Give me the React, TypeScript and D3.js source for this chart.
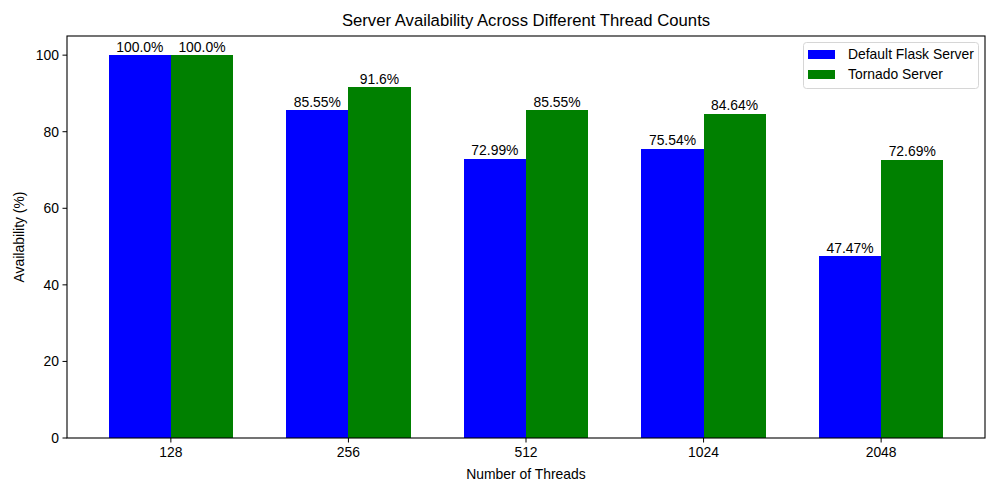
import React from 'react'
import { scaleLinear } from 'd3'

const threads = ['128', '256', '512', '1024', '2048']
const flask = [100.0, 85.55, 72.99, 75.54, 47.47]
const tornado = [100.0, 91.6, 85.55, 84.64, 72.69]
const yTicks = [0, 20, 40, 60, 80, 100]
const seriesNames = ['Default Flask Server', 'Tornado Server']
const seriesColors = ['#0000ff', '#008000']

const fmt = (v: number) => (Number.isInteger(v) ? v.toFixed(1) : String(v)) + '%'

const W = 1000
const H = 494
const left = 67
const right = 985
const top = 36
const bottom = 438
const font = '"Liberation Sans", Arial, sans-serif'

const App = () => {
  // x in "category units", matplotlib-style margins
  const x = scaleLinear().domain([-0.585, threads.length - 1 + 0.585]).range([left, right])
  const y = scaleLinear().domain([0, 105]).range([bottom, top])
  const bw = 0.35
  const series = [flask, tornado]

  return (
    <svg width={W} height={H} style={{ position: 'absolute', left: 0, top: 0, fontFamily: font }}>
      <rect width={W} height={H} fill="white" />
      <text x={(left + right) / 2} y={26} textAnchor="middle" fontSize={16.7}>
        Server Availability Across Different Thread Counts
      </text>

      {series.map((vals, s) =>
        vals.map((v, i) => {
          const x0 = x(i + (s === 0 ? -bw : 0))
          const x1 = x(i + (s === 0 ? 0 : bw))
          return (
            <g key={`${s}-${i}`}>
              <rect x={x0} y={y(v)} width={x1 - x0} height={bottom - y(v)} fill={seriesColors[s]} shapeRendering="crispEdges" />
              <text x={(x0 + x1) / 2} y={y(v) - 3.5} textAnchor="middle" fontSize={13.9}>
                {fmt(v)}
              </text>
            </g>
          )
        })
      )}

      <rect x={left} y={top} width={right - left} height={bottom - top} fill="none" stroke="black" strokeWidth={1.1} />

      {yTicks.map(t => (
        <g key={t}>
          <line x1={left - 4.5} x2={left} y1={y(t)} y2={y(t)} stroke="black" />
          <text x={left - 8} y={y(t)} dy="0.35em" textAnchor="end" fontSize={13.9}>{t}</text>
        </g>
      ))}
      {threads.map((t, i) => (
        <g key={t}>
          <line x1={x(i)} x2={x(i)} y1={bottom} y2={bottom + 4.5} stroke="black" />
          <text x={x(i)} y={bottom + 19} textAnchor="middle" fontSize={13.9}>{t}</text>
        </g>
      ))}

      <text x={(left + right) / 2} y={479} textAnchor="middle" fontSize={13.9}>Number of Threads</text>
      <text transform={`translate(24,${(top + bottom) / 2}) rotate(-90)`} textAnchor="middle" fontSize={13.9}>
        Availability (%)
      </text>

      <g>
        <rect x={803.5} y={42.5} width={175} height={46} rx={3} fill="white" stroke="#d6d6d6" />
        {seriesNames.map((n, k) => (
          <g key={n}>
            <rect x={808} y={50 + k * 20} width={27} height={9} fill={seriesColors[k]} />
            <text x={848} y={54.5 + k * 20} dy="0.35em" fontSize={13.9}>{n}</text>
          </g>
        ))}
      </g>
    </svg>
  )
}

export default App
